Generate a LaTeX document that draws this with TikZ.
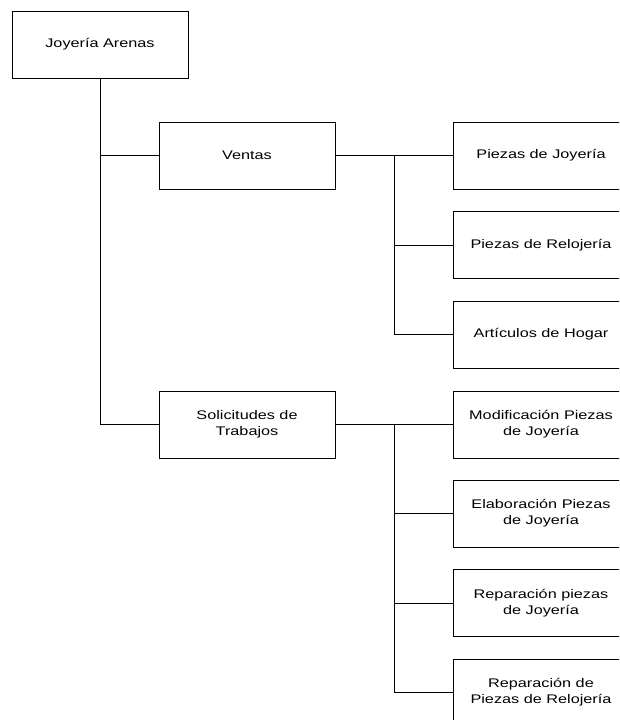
\documentclass[tikz,border=0pt]{standalone}
\usepackage{fontspec}
\setmainfont{Liberation Sans}[FakeStretch=1.3]
\begin{document}
\begin{tikzpicture}[x=1pt,y=-1pt,
  unit/.style={draw=black, line width=0.8pt, rectangle, minimum width=176pt,
    minimum height=67pt, align=center, inner sep=2pt,
    font=\fontsize{12.5pt}{16pt}\selectfont},
  link/.style={draw=black, line width=0.8pt}]
  \clip (0,0) rectangle (619,720);

  % top of the hierarchy
  \node[unit] (root) at (100,44.5) {Joyería Arenas};

  % second level
  \node[unit] (ventas) at (247,155.5) {Ventas};
  \node[unit] (sol) at (247,424.5) {Solicitudes de\\Trabajos};

  % sales branch
  \node[unit] (v1) at (541,155.5) {Piezas de Joyería};
  \node[unit] (v2) at (541,245) {Piezas de Relojería};
  \node[unit] (v3) at (541,334.5) {Artículos de Hogar};

  % work requests branch
  \node[unit] (s1) at (541,424.5) {Modificación Piezas\\de Joyería};
  \node[unit] (s2) at (541,513.5) {Elaboración Piezas\\de Joyería};
  \node[unit] (s3) at (541,603) {Reparación piezas\\de Joyería};
  \node[unit] (s4) at (541,692.5) {Reparación de\\Piezas de Relojería};

  % junction points of the branches
  \coordinate (hv) at (394,155.5);
  \coordinate (hs) at (394,424.5);

  % connectors
  \draw[link] (root.south) |- (ventas.west);
  \draw[link] (root.south) |- (sol.west);

  \draw[link] (ventas.east) -- (v1.west);
  \draw[link] (hv) |- (v2.west);
  \draw[link] (hv) |- (v3.west);

  \draw[link] (sol.east) -- (s1.west);
  \draw[link] (hs) |- (s2.west);
  \draw[link] (hs) |- (s3.west);
  \draw[link] (hs) |- (s4.west);
\end{tikzpicture}
\end{document}
